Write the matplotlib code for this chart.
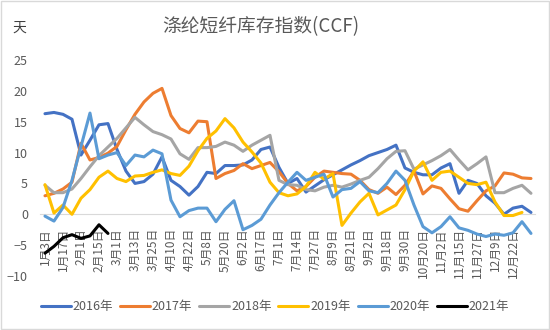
import numpy as np
import matplotlib
matplotlib.use("Agg")
import matplotlib.pyplot as plt
from matplotlib.patches import Rectangle

plt.rcParams['font.family'] = ['Noto Sans CJK SC', 'DejaVu Sans']

# category axis (weekly-ish dates, only every other one is shown)
categories = [
    "1月3日", "1月10日", "1月17日", "1月24日", "2月1日", "2月8日", "2月15日", "2月22日",
    "3月1日", "3月7日", "3月13日", "3月19日", "3月25日", "4月2日", "4月10日", "4月16日",
    "4月22日", "4月29日", "5月8日", "5月14日", "5月20日", "5月27日", "6月2日", "6月9日",
    "6月17日", "6月24日", "7月1日", "7月8日", "7月14日", "7月20日", "7月27日", "8月2日",
    "8月9日", "8月15日", "8月21日", "8月27日", "9月2日", "9月9日", "9月18日", "9月24日",
    "9月30日", "10月12日", "10月20日", "10月26日", "11月2日", "11月8日", "11月15日",
    "11月21日", "11月27日", "12月3日", "12月9日", "12月15日", "12月22日", "12月27日",
    "12月30日",
]

y2016 = [16.3, 16.5, 16.2, 15.4, 9.6, 12.0, 14.5, 14.7, 10.5, 7.0, 5.0, 5.3, 6.5, 9.3,
         5.5, 4.5, 3.1, 4.5, 6.8, 6.6, 7.9, 7.9, 8.0, 8.8, 10.5, 10.9, 7.6, 5.0, 5.8,
         3.6, 4.6, 5.6, 6.4, 7.2, 8.0, 8.7, 9.5, 10.0, 10.5, 11.2, 7.5, 6.8, 6.4, 6.4,
         7.5, 8.2, 3.4, 5.5, 5.0, 3.0, 1.8, 0.0, 1.0, 1.3, 0.3]
y2017 = [3.0, 3.4, 4.1, 5.2, 11.5, 8.8, 9.2, 9.9, 11.0, 13.7, 16.2, 18.2, 19.6, 20.4,
         16.0, 13.9, 13.2, 15.1, 15.0, 5.8, 6.6, 7.1, 8.2, 7.4, 7.9, 8.4, 6.9, 5.0, 3.8,
         4.5, 6.0, 7.0, 6.8, 6.6, 6.5, 5.5, 4.0, 3.4, 4.4, 3.2, 4.7, 7.0, 3.3, 4.6, 4.2,
         2.5, 0.9, 0.5, 2.2, 3.8, 4.6, 6.7, 6.5, 5.9, 5.8]
y2018 = [4.7, 3.5, 3.5, 4.1, 5.8, 7.7, 9.5, 10.9, 12.3, 14.0, 15.7, 14.5, 13.4, 12.9,
         12.2, 9.8, 8.9, 10.8, 10.8, 11.0, 11.7, 11.2, 10.2, 11.2, 12.0, 12.8, 5.5, 4.8,
         4.7, 4.0, 3.8, 4.4, 4.7, 4.4, 4.9, 5.5, 6.0, 7.4, 9.0, 10.2, 10.3, 7.3, 8.0, 8.7,
         9.5, 10.5, 8.8, 7.2, 8.2, 9.3, 3.5, 3.5, 4.2, 4.7, 3.4]
y2019 = [4.8, 0.2, 1.5, 0.0, 2.6, 4.0, 6.0, 7.0, 5.8, 5.3, 6.2, 6.3, 6.8, 7.2, 6.6, 6.3,
         7.8, 10.3, 12.3, 13.5, 15.5, 14.0, 11.7, 10.1, 8.3, 5.2, 3.5, 3.0, 3.3, 4.5, 6.8,
         5.7, 6.6, -1.8, 0.2, 2.0, 3.4, -0.1, 0.7, 1.5, 4.0, 7.0, 8.5, 5.5, 6.8, 7.0, 6.0,
         5.0, 4.8, 5.2, 2.0, -0.2, -0.2, 0.3, np.nan]
y2020 = [-0.3, -1.1, 1.1, 5.5, 11.0, 16.4, 9.0, 9.6, 10.0, 7.9, 9.6, 9.3, 10.4, 9.8,
         2.3, -0.4, 0.6, 1.0, 1.0, -1.2, 0.8, 2.2, -2.5, -1.8, -0.8, 1.5, 3.5, 5.2, 6.8,
         5.5, 6.0, 6.5, 2.8, 4.0, 4.2, 5.3, 3.8, 3.5, 5.0, 7.0, 5.5, 1.5, -2.0, -3.0,
         -2.0, -0.4, -2.2, -2.6, -3.2, -3.6, -3.2, -3.4, -3.0, -1.2, -3.1]
y2021 = [-6.3, -5.2, -3.8, -3.3, -3.9, -3.5, -1.7, -3.1]

series = [
    ("2016年", y2016, "#4472C4"),
    ("2017年", y2017, "#ED7D31"),
    ("2018年", y2018, "#A5A5A5"),
    ("2019年", y2019, "#FFC000"),
    ("2020年", y2020, "#5B9BD5"),
    ("2021年", y2021, "#000000"),
]

fig = plt.figure(figsize=(5.5, 3.3), dpi=100)
ax = fig.add_axes([0.0736, 0.1636, 0.9, 0.6546])

# category axis crosses at zero, like the spreadsheet original
# (set the spine position first: it resets the tick labels)
for s in ["top", "right", "left"]:
    ax.spines[s].set_visible(False)
ax.spines["bottom"].set_position(("data", 0))
ax.spines["bottom"].set_color("#D9D9D9")
ax.spines["bottom"].set_linewidth(0.8)
ax.spines["bottom"].set_zorder(0.5)

for name, vals, color in series:
    ax.plot(np.arange(len(vals)), vals, color=color, lw=2.2, label=name,
            solid_joinstyle='round', solid_capstyle='round', zorder=2)

n = len(categories)
ax.set_xlim(-0.5, n - 0.5)
ax.set_ylim(-10, 25)
ax.set_yticks(np.arange(-10, 26, 5))
# every second category gets a label, up to 12月22日
ax.set_xticks(np.arange(0, 53, 2))
ax.set_xticklabels(categories[0:53:2])
ax.tick_params(axis="x", length=0, pad=10, labelrotation=90, labelsize=8.5,
               labelcolor="#595959")
ax.tick_params(axis="y", length=0, pad=9, labelsize=9, labelcolor="#595959")

fig.text(0.475, 0.918, "涤纶短纤库存指数(CCF)", ha="center", va="center",
         fontsize=13.5, color="#595959")
fig.text(0.036, 0.915, "天", ha="center", va="center", fontsize=10, color="#404040")

fig.legend(loc="center", bbox_to_anchor=(0.5, 0.07), ncol=6, frameon=False,
           fontsize=9, handlelength=2.4, handletextpad=0.15, columnspacing=0.55,
           labelcolor="#595959")

fig.patches.append(Rectangle((0.002, 0.003), 0.996, 0.994, transform=fig.transFigure,
                             fill=False, edgecolor="#D9D9D9", lw=1))

fig.savefig("out.png", dpi=100)
